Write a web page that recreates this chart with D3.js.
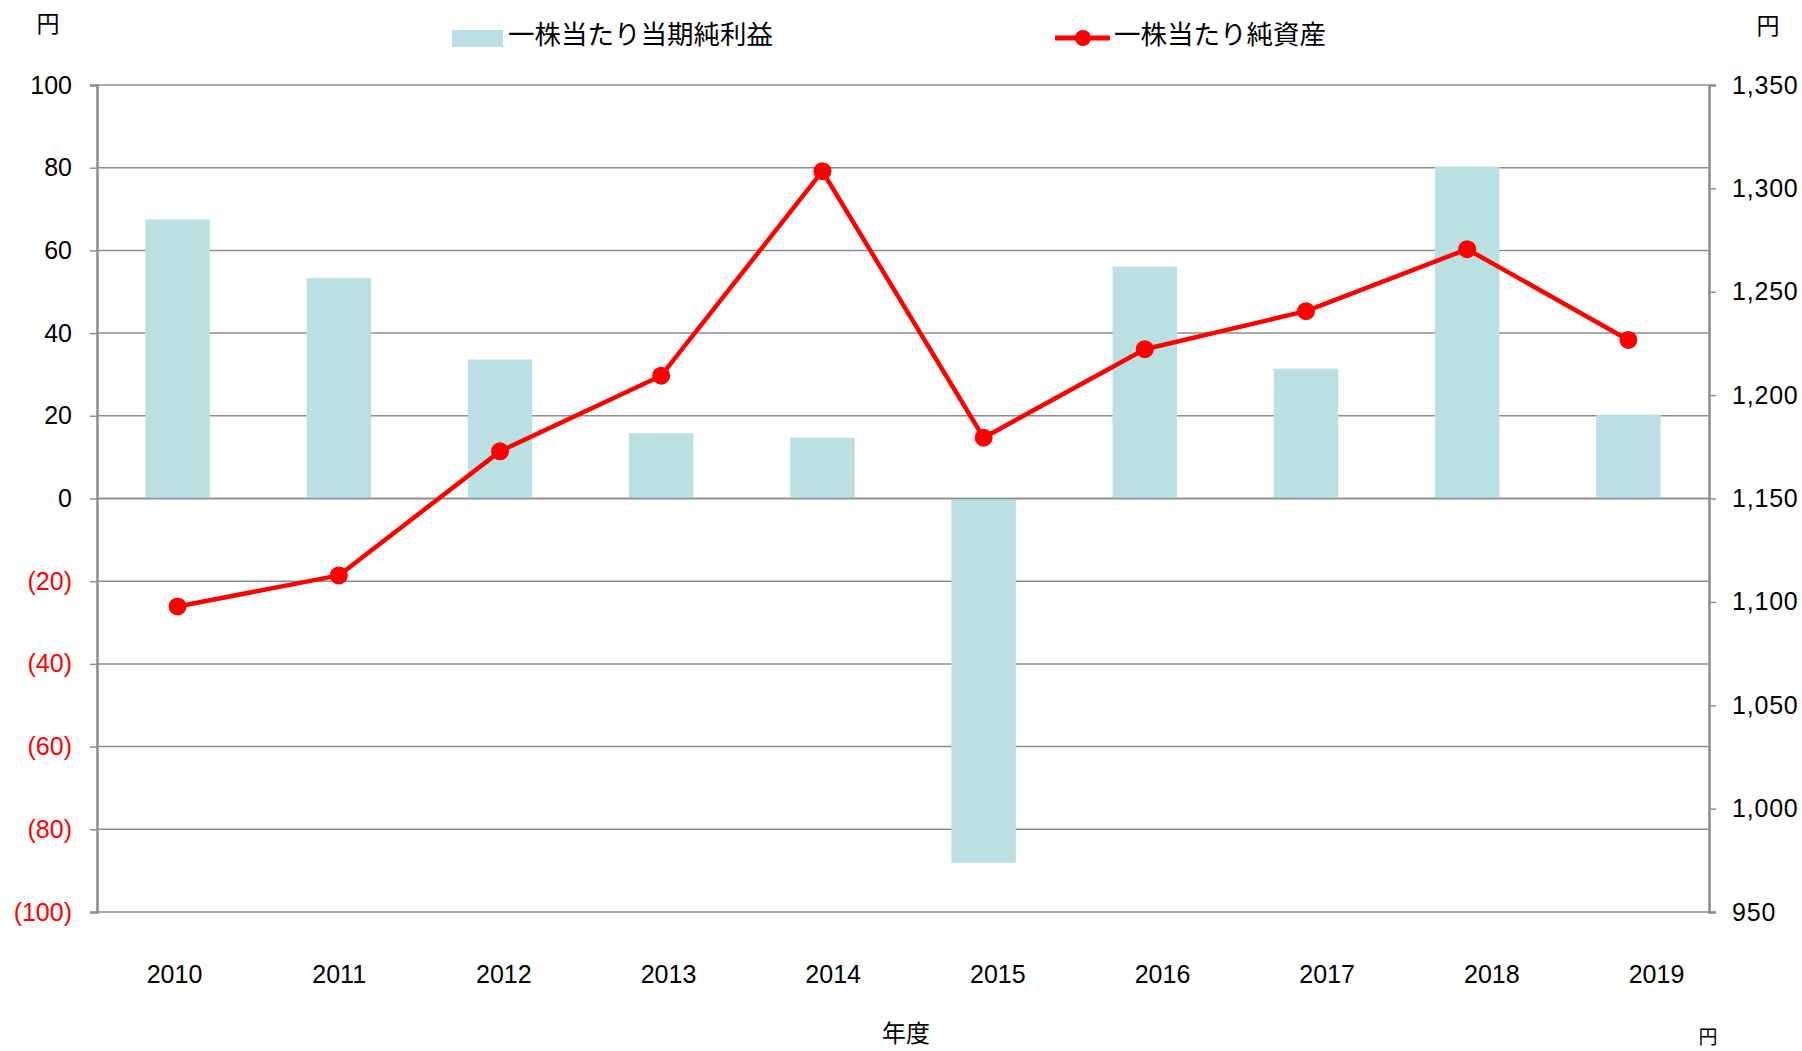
<!DOCTYPE html>
<html>
<head>
<meta charset="utf-8">
<script src="https://cdn.jsdelivr.net/npm/d3@7"></script>
<style>
  body { margin: 0; background: #fff; }
  text { font-family: "Liberation Sans", Arial, sans-serif; }
  .jp { font-family: "Noto Sans CJK JP", sans-serif; }
</style>
</head>
<body>
<svg width="1802" height="1051"></svg>
<script>
// data
const years = ["2010", "2011", "2012", "2013", "2014", "2015", "2016", "2017", "2018", "2019"];
const eps = [67.5, 53.3, 33.6, 15.8, 14.7, -88.1, 56.1, 31.4, 80.3, 20.3];
const bps = [1097.8, 1112.8, 1172.8, 1209.4, 1308.3, 1179.4, 1222.2, 1240.6, 1270.6, 1226.7];
const leftTicks = [100, 80, 60, 40, 20, 0, -20, -40, -60, -80, -100];
const rightTicks = [1350, 1300, 1250, 1200, 1150, 1100, 1050, 1000, 950];
const legendNames = ["一株当たり当期純利益", "一株当たり純資産"];

const svg = d3.select("svg");
const plotL = 97, plotR = 1709, plotT = 85, plotB = 912;

const x = d3.scaleBand().domain(years).range([plotL, plotR]).paddingInner(0.6).paddingOuter(0.3);
// year labels sit on a slightly wider spacing than the bars
const xLab = d3.scalePoint().domain(years).range([174, 1656]);
const yL = d3.scaleLinear().domain([-100, 100]).range([plotB, plotT]);
const yR = d3.scaleLinear().domain([950, 1350]).range([plotB, plotT]);

// gridlines
svg.append("g")
  .selectAll("line")
  .data(leftTicks)
  .enter()
  .append("line")
  .attr("x1", plotL)
  .attr("x2", plotR)
  .attr("y1", d => yL(d))
  .attr("y2", d => yL(d))
  .attr("stroke", "#8c8c8c")
  .attr("stroke-width", 1.5);

// bars
svg.append("g")
  .selectAll("rect")
  .data(eps)
  .enter()
  .append("rect")
  .attr("fill", "#bae0e3")
  .attr("x", (d, i) => x(years[i]))
  .attr("width", x.bandwidth())
  .attr("y", d => yL(Math.max(0, d)))
  .attr("height", d => Math.abs(yL(d) - yL(0)));

// zero line on top of bars
svg.append("line")
  .attr("x1", plotL).attr("x2", plotR)
  .attr("y1", yL(0)).attr("y2", yL(0))
  .attr("stroke", "#8c8c8c")
  .attr("stroke-width", 1.5);

// left axis
const fmtL = d => d < 0 ? `(${-d})` : `${d}`;
const axL = svg.append("g")
  .attr("transform", `translate(${plotL},0)`)
  .call(d3.axisLeft(yL).tickValues(leftTicks).tickSize(7).tickPadding(18).tickFormat(fmtL));
axL.select(".domain").attr("stroke", "#8c8c8c").attr("stroke-width", 2.5);
axL.selectAll(".tick line").attr("stroke", "#8c8c8c").attr("stroke-width", 1.5);
axL.selectAll(".tick text")
  .attr("font-size", 25)
  .attr("font-family", "Liberation Sans, Arial, sans-serif")
  .attr("fill", d => d < 0 ? "#ff0000" : "#000");

// right axis
const axR = svg.append("g")
  .attr("transform", `translate(${plotR},0)`)
  .call(d3.axisRight(yR).tickValues(rightTicks).tickSize(7).tickPadding(16).tickFormat(d3.format(",")));
axR.select(".domain").attr("stroke", "#8c8c8c").attr("stroke-width", 2.5);
axR.selectAll(".tick line").attr("stroke", "#8c8c8c").attr("stroke-width", 1.5);
axR.selectAll(".tick text")
  .attr("font-size", 25)
  .attr("letter-spacing", 0.8)
  .attr("font-family", "Liberation Sans, Arial, sans-serif")
  .attr("fill", "#000");

// x axis labels
const axB = svg.append("g")
  .attr("transform", `translate(0,${plotB})`)
  .call(d3.axisBottom(xLab).tickSize(0).tickPadding(53));
axB.select(".domain").remove();
axB.selectAll(".tick text")
  .attr("font-size", 25)
  .attr("font-family", "Liberation Sans, Arial, sans-serif")
  .attr("fill", "#000");

// line
const line = d3.line()
  .x((d, i) => x(years[i]) + x.bandwidth() / 2)
  .y(d => yR(d));

svg.append("path")
  .datum(bps)
  .attr("d", line)
  .attr("fill", "none")
  .attr("stroke", "#ff0000")
  .attr("stroke-width", 4.5)
  .attr("stroke-linejoin", "round");

svg.append("g")
  .selectAll("circle")
  .data(bps)
  .enter()
  .append("circle")
  .attr("cx", (d, i) => x(years[i]) + x.bandwidth() / 2)
  .attr("cy", d => yR(d))
  .attr("r", 9)
  .attr("fill", "#ff0000");

// legend
const leg = svg.append("g");
leg.append("rect")
  .attr("x", 452).attr("y", 30).attr("width", 51).attr("height", 17)
  .attr("fill", "#bae0e3");
leg.append("text")
  .attr("class", "jp")
  .attr("x", 508).attr("y", 35)
  .attr("dy", "0.35em")
  .attr("font-size", 26.5)
  .text(legendNames[0]);
leg.append("line")
  .attr("x1", 1055).attr("x2", 1110).attr("y1", 38).attr("y2", 38)
  .attr("stroke", "#ff0000").attr("stroke-width", 5);
leg.append("circle")
  .attr("cx", 1083).attr("cy", 38).attr("r", 8)
  .attr("fill", "#ff0000");
leg.append("text")
  .attr("class", "jp")
  .attr("x", 1114).attr("y", 35)
  .attr("dy", "0.35em")
  .attr("font-size", 26.5)
  .text(legendNames[1]);

// unit labels
svg.append("text").attr("class", "jp")
  .attr("x", 48).attr("y", 24).attr("dy", "0.35em")
  .attr("text-anchor", "middle").attr("font-size", 23).text("円");
svg.append("text").attr("class", "jp")
  .attr("x", 1768).attr("y", 26).attr("dy", "0.35em")
  .attr("text-anchor", "middle").attr("font-size", 23).text("円");
svg.append("text").attr("class", "jp")
  .attr("x", 906).attr("y", 1042)
  .attr("text-anchor", "middle").attr("font-size", 24).text("年度");
svg.append("text").attr("class", "jp")
  .attr("x", 1708).attr("y", 1044)
  .attr("text-anchor", "middle").attr("font-size", 19).text("円");
</script>
</body>
</html>
